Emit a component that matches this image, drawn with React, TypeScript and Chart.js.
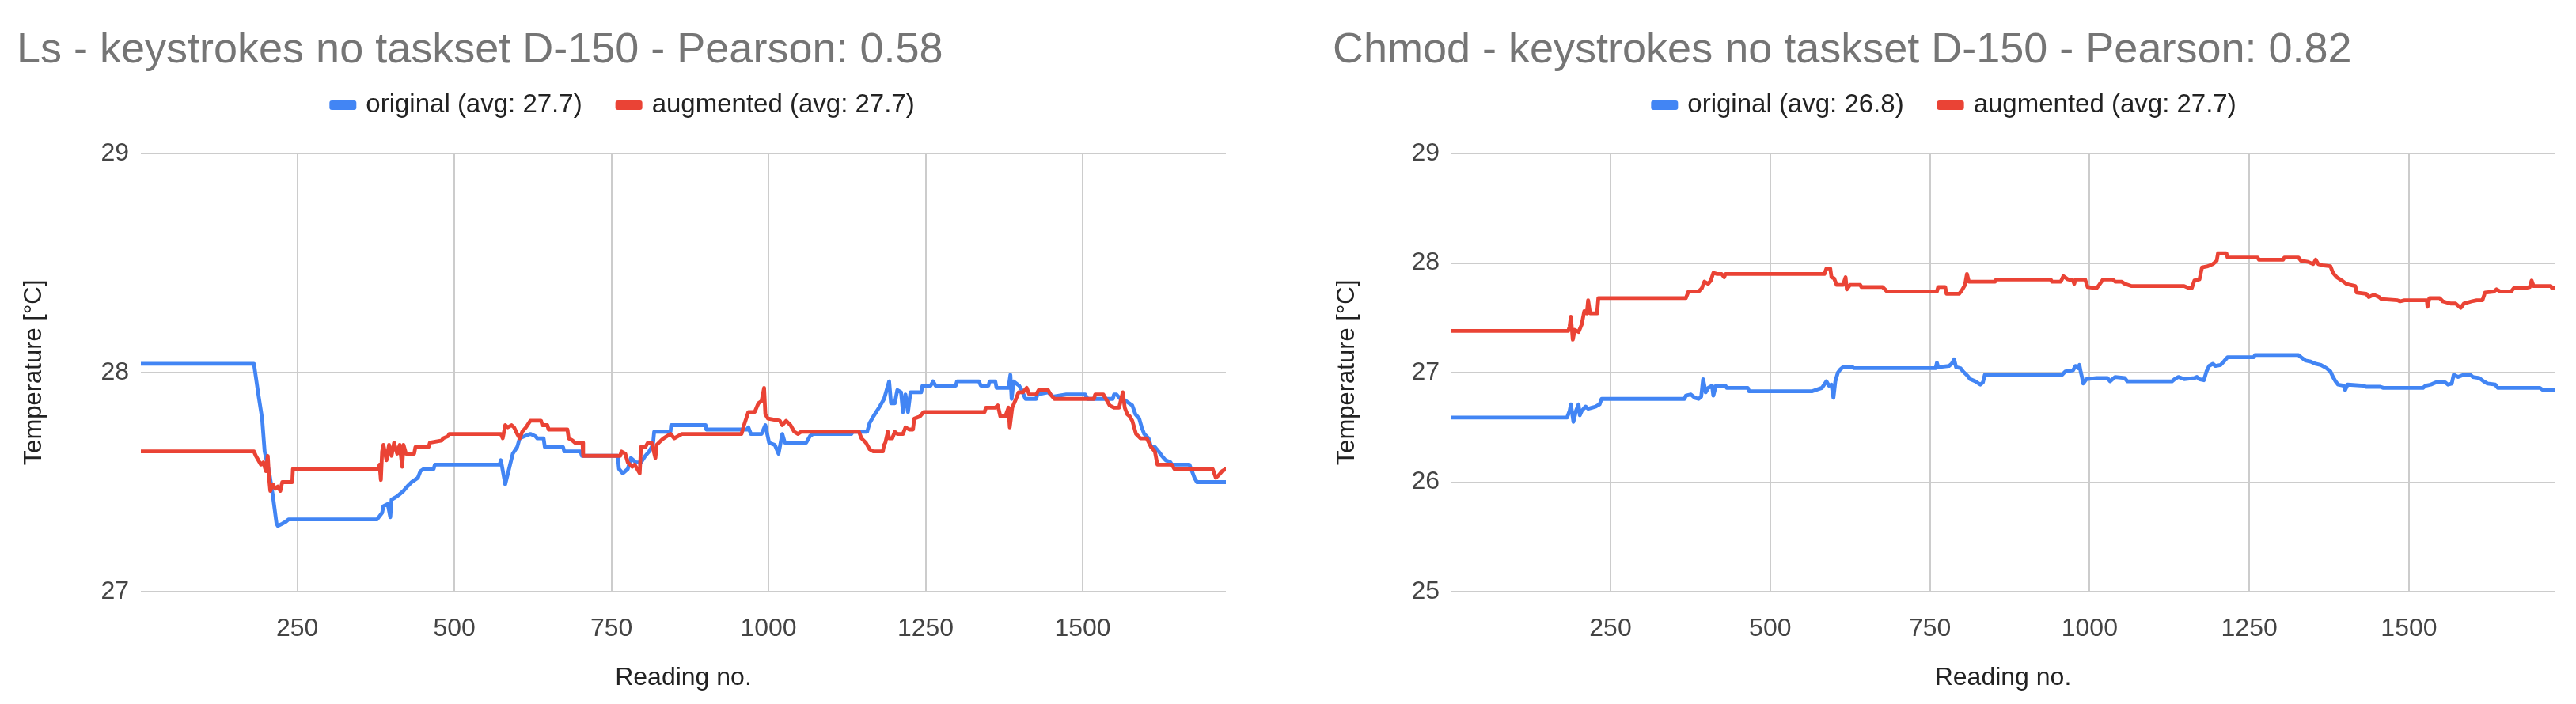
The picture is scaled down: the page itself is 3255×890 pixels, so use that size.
import React, { useEffect, useRef } from "react";
import { Chart, registerables } from "chart.js";

Chart.register(...registerables);

const FONT = '"Liberation Sans", Arial, Helvetica, sans-serif';
Chart.defaults.font.family = FONT;

// ---------- tick labels ----------
const xTicks = [250, 500, 750, 1000, 1250, 1500];
const lsYTicks = [27, 28, 29];
const chmodYTicks = [25, 26, 27, 28, 29];

// ---------- Ls chart ----------
const lsOriginalX = [1, 181, 183, 188, 194, 198, 205, 211, 217, 219, 226, 232, 236, 377, 385, 387, 394, 398, 400, 406, 411, 415, 419, 425, 432, 442, 446, 451, 467, 469, 572, 574, 581, 587, 593, 600, 604, 612, 621, 629, 632, 642, 644, 673, 675, 701, 703, 760, 762, 768, 776, 781, 789, 797, 804, 810, 816, 818, 844, 845, 900, 901, 966, 968, 972, 989, 995, 1001, 1010, 1016, 1022, 1026, 1060, 1066, 1071, 1132, 1134, 1157, 1161, 1167, 1176, 1184, 1192, 1195, 1201, 1205, 1211, 1214, 1218, 1222, 1226, 1243, 1245, 1258, 1262, 1266, 1298, 1300, 1335, 1338, 1350, 1352, 1361, 1363, 1382, 1385, 1387, 1390, 1399, 1403, 1409, 1426, 1428, 1445, 1453, 1474, 1504, 1508, 1548, 1550, 1554, 1560, 1569, 1579, 1584, 1590, 1594, 1598, 1605, 1609, 1615, 1621, 1626, 1632, 1640, 1642, 1670, 1674, 1678, 1682, 1728];
const lsOriginalY = [28.04, 28.04, 28.0, 27.9, 27.79, 27.64, 27.55, 27.44, 27.31, 27.3, 27.31, 27.32, 27.33, 27.33, 27.36, 27.39, 27.4, 27.34, 27.42, 27.43, 27.44, 27.45, 27.46, 27.48, 27.5, 27.52, 27.55, 27.56, 27.56, 27.58, 27.58, 27.6, 27.49, 27.56, 27.63, 27.66, 27.7, 27.71, 27.72, 27.71, 27.7, 27.7, 27.66, 27.66, 27.64, 27.64, 27.62, 27.62, 27.56, 27.54, 27.56, 27.61, 27.59, 27.59, 27.62, 27.64, 27.67, 27.73, 27.73, 27.76, 27.76, 27.74, 27.74, 27.75, 27.72, 27.72, 27.76, 27.68, 27.67, 27.63, 27.72, 27.68, 27.68, 27.71, 27.72, 27.72, 27.73, 27.73, 27.77, 27.8, 27.84, 27.88, 27.96, 27.86, 27.86, 27.92, 27.91, 27.82, 27.9, 27.82, 27.91, 27.91, 27.94, 27.94, 27.96, 27.94, 27.94, 27.96, 27.96, 27.94, 27.94, 27.96, 27.96, 27.93, 27.93, 27.99, 27.88, 27.96, 27.94, 27.92, 27.88, 27.88, 27.9, 27.91, 27.89, 27.9, 27.9, 27.88, 27.88, 27.9, 27.9, 27.88, 27.87, 27.85, 27.81, 27.79, 27.75, 27.72, 27.7, 27.66, 27.66, 27.64, 27.62, 27.6, 27.59, 27.58, 27.58, 27.55, 27.52, 27.5, 27.5];

const lsAugmentedX = [1, 181, 184, 188, 192, 196, 200, 203, 205, 207, 211, 215, 219, 223, 226, 242, 243, 379, 381, 383, 385, 387, 392, 396, 400, 404, 409, 413, 417, 419, 423, 436, 438, 459, 461, 480, 482, 490, 492, 574, 577, 581, 585, 591, 595, 600, 604, 608, 614, 621, 638, 640, 648, 650, 680, 682, 688, 692, 704, 705, 764, 766, 772, 776, 783, 787, 791, 795, 797, 804, 808, 814, 820, 822, 829, 833, 844, 850, 856, 862, 957, 961, 968, 978, 984, 989, 993, 995, 999, 1018, 1022, 1028, 1035, 1041, 1047, 1052, 1144, 1148, 1155, 1161, 1167, 1182, 1184, 1186, 1190, 1192, 1197, 1201, 1205, 1214, 1218, 1224, 1230, 1232, 1241, 1247, 1344, 1346, 1361, 1365, 1369, 1377, 1382, 1384, 1388, 1394, 1398, 1405, 1411, 1415, 1426, 1430, 1445, 1449, 1455, 1518, 1520, 1533, 1537, 1543, 1550, 1558, 1564, 1567, 1571, 1575, 1579, 1585, 1592, 1602, 1609, 1615, 1619, 1642, 1646, 1707, 1712, 1716, 1722, 1728];
const lsAugmentedY = [27.64, 27.64, 27.62, 27.6, 27.58, 27.59, 27.55, 27.62, 27.52, 27.46, 27.49, 27.47, 27.48, 27.46, 27.5, 27.5, 27.56, 27.56, 27.58, 27.51, 27.64, 27.67, 27.6, 27.67, 27.62, 27.68, 27.63, 27.67, 27.57, 27.67, 27.63, 27.63, 27.66, 27.66, 27.68, 27.69, 27.7, 27.71, 27.72, 27.72, 27.7, 27.76, 27.75, 27.76, 27.75, 27.72, 27.7, 27.73, 27.75, 27.78, 27.78, 27.76, 27.76, 27.74, 27.74, 27.7, 27.69, 27.68, 27.68, 27.62, 27.62, 27.64, 27.63, 27.59, 27.57, 27.58, 27.56, 27.54, 27.66, 27.66, 27.68, 27.68, 27.61, 27.67, 27.69, 27.7, 27.72, 27.7, 27.71, 27.72, 27.72, 27.76, 27.82, 27.82, 27.86, 27.87, 27.93, 27.81, 27.79, 27.78, 27.76, 27.78, 27.76, 27.73, 27.72, 27.73, 27.73, 27.7, 27.68, 27.65, 27.64, 27.64, 27.67, 27.68, 27.73, 27.7, 27.7, 27.73, 27.72, 27.72, 27.75, 27.74, 27.74, 27.79, 27.8, 27.82, 27.82, 27.84, 27.84, 27.85, 27.8, 27.8, 27.84, 27.75, 27.84, 27.88, 27.91, 27.91, 27.93, 27.9, 27.9, 27.92, 27.92, 27.9, 27.88, 27.88, 27.9, 27.9, 27.88, 27.85, 27.84, 27.84, 27.91, 27.84, 27.81, 27.8, 27.78, 27.72, 27.7, 27.7, 27.66, 27.64, 27.58, 27.58, 27.56, 27.56, 27.52, 27.53, 27.55, 27.56];

// ---------- Chmod chart ----------
const chmodOriginalX = [1, 182, 186, 188, 192, 196, 200, 202, 205, 211, 215, 221, 227, 233, 236, 366, 368, 376, 382, 388, 392, 395, 399, 403, 409, 411, 415, 430, 432, 465, 467, 566, 581, 588, 592, 596, 599, 602, 606, 610, 614, 629, 631, 759, 761, 763, 780, 784, 788, 791, 798, 802, 809, 813, 821, 829, 833, 836, 957, 962, 974, 978, 982, 984, 986, 988, 990, 995, 1011, 1028, 1032, 1040, 1055, 1059, 1129, 1133, 1139, 1148, 1164, 1168, 1172, 1179, 1183, 1187, 1193, 1197, 1205, 1210, 1216, 1257, 1259, 1327, 1331, 1338, 1346, 1354, 1362, 1371, 1377, 1381, 1385, 1389, 1398, 1400, 1404, 1429, 1433, 1455, 1460, 1522, 1526, 1534, 1542, 1557, 1561, 1567, 1570, 1577, 1586, 1596, 1600, 1610, 1617, 1623, 1635, 1639, 1705, 1710, 1728];
const chmodOriginalY = [26.59, 26.59, 26.65, 26.71, 26.55, 26.65, 26.71, 26.61, 26.65, 26.69, 26.67, 26.68, 26.69, 26.71, 26.76, 26.76, 26.79, 26.8, 26.77, 26.76, 26.78, 26.94, 26.82, 26.86, 26.88, 26.79, 26.88, 26.88, 26.86, 26.86, 26.83, 26.83, 26.86, 26.92, 26.88, 26.89, 26.77, 26.92, 27.0, 27.03, 27.05, 27.05, 27.04, 27.04, 27.09, 27.05, 27.06, 27.08, 27.12, 27.05, 27.04, 27.01, 26.97, 26.94, 26.92, 26.89, 26.91, 26.98, 26.98, 27.01, 27.02, 27.06, 27.04, 27.07, 27.01, 26.96, 26.9, 26.94, 26.95, 26.95, 26.92, 26.96, 26.95, 26.92, 26.92, 26.94, 26.96, 26.94, 26.95, 26.96, 26.94, 26.93, 27.01, 27.06, 27.08, 27.06, 27.07, 27.1, 27.14, 27.14, 27.16, 27.16, 27.14, 27.11, 27.1, 27.08, 27.07, 27.04, 27.01, 26.96, 26.92, 26.89, 26.88, 26.84, 26.89, 26.88, 26.87, 26.87, 26.86, 26.86, 26.88, 26.89, 26.91, 26.91, 26.89, 26.9, 26.98, 26.96, 26.98, 26.98, 26.96, 26.95, 26.92, 26.9, 26.89, 26.86, 26.86, 26.84, 26.84];

const chmodAugmentedX = [1, 184, 186, 188, 191, 194, 200, 205, 209, 213, 215, 218, 229, 231, 368, 372, 388, 393, 397, 403, 407, 411, 417, 424, 428, 430, 585, 588, 594, 596, 600, 604, 614, 618, 620, 625, 641, 643, 676, 683, 761, 763, 774, 776, 796, 800, 805, 808, 811, 852, 854, 939, 941, 955, 959, 966, 974, 976, 978, 993, 997, 1011, 1015, 1021, 1036, 1040, 1050, 1055, 1065, 1148, 1156, 1160, 1164, 1172, 1176, 1185, 1193, 1199, 1201, 1214, 1216, 1263, 1265, 1303, 1305, 1327, 1331, 1342, 1350, 1354, 1358, 1364, 1377, 1381, 1387, 1395, 1402, 1408, 1416, 1418, 1433, 1437, 1445, 1453, 1457, 1482, 1486, 1493, 1528, 1529, 1532, 1548, 1553, 1565, 1573, 1581, 1586, 1598, 1606, 1615, 1619, 1633, 1637, 1643, 1660, 1664, 1681, 1689, 1692, 1695, 1722, 1724, 1728];
const chmodAugmentedY = [27.38, 27.38, 27.42, 27.51, 27.3, 27.39, 27.37, 27.44, 27.56, 27.54, 27.66, 27.54, 27.54, 27.68, 27.68, 27.74, 27.74, 27.77, 27.83, 27.81, 27.84, 27.91, 27.9, 27.9, 27.87, 27.9, 27.9, 27.95, 27.95, 27.87, 27.86, 27.8, 27.8, 27.87, 27.76, 27.8, 27.8, 27.78, 27.78, 27.74, 27.74, 27.78, 27.78, 27.72, 27.72, 27.75, 27.8, 27.9, 27.83, 27.83, 27.85, 27.85, 27.83, 27.83, 27.88, 27.85, 27.84, 27.81, 27.85, 27.85, 27.78, 27.77, 27.8, 27.85, 27.85, 27.83, 27.83, 27.81, 27.79, 27.79, 27.77, 27.77, 27.84, 27.85, 27.96, 27.97, 27.99, 28.02, 28.09, 28.09, 28.05, 28.05, 28.03, 28.03, 28.05, 28.05, 28.02, 28.01, 27.99, 28.03, 27.99, 27.98, 27.97, 27.91, 27.87, 27.84, 27.81, 27.8, 27.79, 27.73, 27.72, 27.69, 27.71, 27.69, 27.67, 27.66, 27.65, 27.66, 27.66, 27.6, 27.68, 27.68, 27.65, 27.63, 27.63, 27.59, 27.63, 27.65, 27.66, 27.66, 27.73, 27.74, 27.76, 27.74, 27.74, 27.77, 27.77, 27.78, 27.84, 27.79, 27.79, 27.77, 27.77];

const BLUE = "#4285F4";
const RED = "#EA4335";

const toPoints = (xs: number[], ys: number[]) => xs.map((x, i) => ({ x, y: ys[i] }));

const googleLegend = {
  id: "googleLegend",
  afterDraw(chart: any, _args: any, opts: any) {
    const ctx = chart.ctx as CanvasRenderingContext2D;
    ctx.save();
    ctx.font = `${opts.fontSize}px ${FONT}`;
    const items = chart.data.datasets.map((d: any) => ({ text: d.label, color: d.borderColor }));
    const widths = items.map((it: any) => opts.boxWidth + opts.textGap + ctx.measureText(it.text).width);
    const total = widths.reduce((a: number, b: number) => a + b, 0) + opts.itemGap * (items.length - 1);
    let x = opts.centerX - total / 2;
    const y = opts.y;
    items.forEach((it: any, i: number) => {
      ctx.fillStyle = it.color;
      ctx.beginPath();
      (ctx as any).roundRect(x, y - opts.boxHeight / 2, opts.boxWidth, opts.boxHeight, 3);
      ctx.fill();
      ctx.fillStyle = "#222222";
      ctx.textAlign = "left";
      ctx.textBaseline = "middle";
      ctx.fillText(it.text, x + opts.boxWidth + opts.textGap, y);
      x += widths[i] + opts.itemGap;
    });
    ctx.restore();
  },
};

type Cfg = {
  title: string;
  origLabel: string;
  augLabel: string;
  orig: { x: number; y: number }[];
  aug: { x: number; y: number }[];
  yMin: number;
  yMax: number;
  yTicks: number[];
  padLeft: number;
  padRight: number;
  yAxisWidth: number;
  yTitlePad: number;
  legendCenter: number;
};

function makeConfig(c: Cfg): any {
  return {
    type: "line",
    data: {
      datasets: [
        { label: c.origLabel, data: c.orig, borderColor: BLUE, backgroundColor: BLUE, order: 1 },
        { label: c.augLabel, data: c.aug, borderColor: RED, backgroundColor: RED, order: 0 },
      ],
    },
    options: {
      responsive: false,
      animation: false,
      devicePixelRatio: 1,
      layout: { padding: { left: c.padLeft, right: c.padRight, top: 0, bottom: 0 } },
      elements: {
        point: { radius: 0, hoverRadius: 0 },
        line: { borderWidth: 4.8, tension: 0, borderJoinStyle: "round", borderCapStyle: "round" },
      },
      plugins: {
        legend: { display: false },
        tooltip: { enabled: false },
        title: {
          display: true,
          text: c.title,
          align: "start",
          color: "#757575",
          font: { size: 54, family: FONT, weight: "normal", lineHeight: 1 },
          padding: { top: 29, bottom: 103 },
        },
        googleLegend: {
          centerX: c.legendCenter,
          y: 125,
          fontSize: 33,
          boxWidth: 34,
          boxHeight: 12,
          textGap: 12,
          itemGap: 42,
        },
      },
      scales: {
        x: {
          type: "linear",
          min: 1,
          max: 1728,
          afterBuildTicks: (s: any) => {
            s.ticks = xTicks.map((v) => ({ value: v }));
          },
          afterFit: (s: any) => {
            s.height = 134;
          },
          ticks: {
            color: "#444444",
            font: { size: 32 },
            padding: 28,
            maxRotation: 0,
            autoSkip: false,
            callback: (v: any) => String(v),
          },
          grid: { color: "#cccccc", lineWidth: 2, drawTicks: false },
          border: { display: false },
          title: {
            display: true,
            text: "Reading no.",
            color: "#222222",
            font: { size: 32 },
            padding: { top: 0, bottom: 6 },
          },
        },
        y: {
          type: "linear",
          min: c.yMin,
          max: c.yMax,
          afterBuildTicks: (s: any) => {
            s.ticks = c.yTicks.map((v) => ({ value: v }));
          },
          afterFit: (s: any) => {
            s.width = c.yAxisWidth;
          },
          ticks: { color: "#444444", font: { size: 32 }, padding: 15, callback: (v: any) => String(v) },
          grid: { color: "#cccccc", lineWidth: 2, drawTicks: false },
          border: { display: false },
          title: {
            display: true,
            text: "Temperature [°C]",
            color: "#222222",
            font: { size: 31 },
            padding: { top: c.yTitlePad, bottom: 0 },
          },
        },
      },
    },
    plugins: [googleLegend],
  };
}

function ChartCanvas({ width, height, config }: { width: number; height: number; config: any }) {
  const ref = useRef<HTMLCanvasElement | null>(null);
  useEffect(() => {
    if (!ref.current) return;
    const chart = new Chart(ref.current, config);
    return () => chart.destroy();
  }, []);
  return <canvas ref={ref} width={width} height={height} style={{ display: "block", width, height }} />;
}

export default function App() {
  const lsCfg = makeConfig({
    title: "Ls - keystrokes no taskset D-150 - Pearson: 0.58",
    origLabel: "original (avg: 27.7)",
    augLabel: "augmented (avg: 27.7)",
    orig: toPoints(lsOriginalX, lsOriginalY),
    aug: toPoints(lsAugmentedX, lsAugmentedY),
    yMin: 27,
    yMax: 29,
    yTicks: lsYTicks,
    padLeft: 13,
    padRight: 75,
    yAxisWidth: 157,
    yTitlePad: 4,
    legendCenter: 778,
  });
  const chmodCfg = makeConfig({
    title: "Chmod - keystrokes no taskset D-150 - Pearson: 0.82",
    origLabel: "original (avg: 26.8)",
    augLabel: "augmented (avg: 27.7)",
    orig: toPoints(chmodOriginalX, chmodOriginalY),
    aug: toPoints(chmodAugmentedX, chmodAugmentedY),
    yMin: 25,
    yMax: 29,
    yTicks: chmodYTicks,
    padLeft: 60,
    padRight: 19,
    yAxisWidth: 150,
    yTitlePad: 0,
    legendCenter: 832,
  });
  return (
    <div style={{ display: "flex", width: 3239, height: 874, background: "#ffffff" }}>
      <ChartCanvas width={1616} height={874} config={lsCfg} />
      <ChartCanvas width={1623} height={874} config={chmodCfg} />
    </div>
  );
}
